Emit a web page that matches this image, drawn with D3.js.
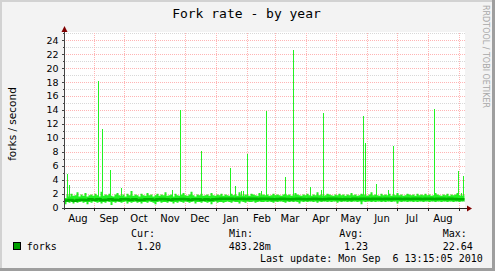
<!DOCTYPE html>
<html>
<head>
<meta charset="utf-8">
<script src="https://cdn.jsdelivr.net/npm/d3@7"></script>
<style>
  body { margin: 0; background: #fff; }
  svg text { font-family: "DejaVu Sans", sans-serif; }
  .mono { font-family: "DejaVu Sans Mono", monospace; }
</style>
</head>
<body>
<div id="chart"></div>
<script>
// ---- data ----
const title = "Fork rate - by year";
const yLabel = "forks / second";
const watermark = "RRDTOOL / TOBI OETIKER";
const lastUpdate = new Date(2010, 8, 6, 13, 15, 5);
const spanDays = 400;
const yTicks = [0, 2, 4, 6, 8, 10, 12, 14, 16, 18, 20, 22, 24];

// min / max band, one value every 2 days from the left edge
const bandStep = 2;
const maxVals = [
  1.4,1.9,1.6,2.0,1.7,1.8,2.2,1.6,1.9,1.7,2.1,1.6,1.8,1.9,1.7,2.0,1.8,1.6,2.3,1.7,
  1.9,1.8,2.0,1.7,1.6,1.9,2.1,1.8,1.7,1.9,1.6,2.0,1.8,2.4,1.7,1.9,1.8,1.6,2.0,1.8,
  1.7,2.1,1.8,1.9,1.6,1.8,2.0,1.7,1.9,1.8,2.2,1.7,1.8,1.9,1.6,2.0,1.8,1.7,1.9,2.1,
  1.8,1.7,1.9,2.3,1.8,1.6,1.9,1.8,2.0,1.7,1.8,1.9,1.7,2.1,1.8,1.7,1.9,1.8,2.0,1.7,
  1.9,1.8,1.7,2.0,1.8,1.9,1.7,2.2,1.8,1.7,1.9,1.8,1.7,2.0,1.9,1.8,1.7,2.1,1.8,1.9,
  1.8,1.9,1.7,1.8,2.0,1.8,1.9,1.8,1.7,1.9,2.0,1.8,1.9,1.7,1.8,2.1,1.9,1.8,1.7,1.9,
  1.8,2.0,1.8,1.7,1.9,1.8,2.2,1.8,1.9,1.7,1.8,2.0,1.9,1.8,1.7,1.9,1.8,2.0,1.8,1.9,
  1.7,1.9,1.8,2.1,1.8,1.9,1.7,1.8,2.0,1.9,1.8,1.7,1.9,2.2,1.8,1.9,1.8,1.7,2.0,1.8,
  1.9,1.8,2.0,1.7,1.9,1.8,2.1,1.8,1.9,1.7,1.8,2.0,1.9,1.8,1.9,1.7,2.0,1.8,1.9,1.8,
  2.0,1.8,1.9,1.7,1.8,2.1,1.9,1.8,1.7,1.9,1.8,2.0,1.7,1.9,1.8,1.9,2.1,1.8,1.7,1.8
];
const minVals = [
  0.5,0.8,0.7,0.9,0.6,0.8,0.7,0.8,0.9,0.7,0.8,0.5,0.8,0.7,0.9,0.8,0.7,0.8,0.6,0.8,
  0.7,0.9,0.8,0.4,0.8,0.7,0.9,0.8,0.7,0.8,0.9,0.6,0.8,0.7,0.8,0.9,0.7,0.8,0.6,0.8,
  0.8,0.7,0.9,0.8,0.7,0.5,0.8,0.9,0.7,0.8,0.8,0.7,0.9,0.8,0.6,0.8,0.7,0.9,0.8,0.7,
  0.9,0.8,0.7,0.8,0.9,0.6,0.8,0.8,0.7,0.9,0.8,0.7,0.8,0.5,0.8,0.9,0.7,0.8,0.8,0.7,
  0.8,0.9,0.8,0.7,0.9,0.8,0.8,0.6,0.9,0.8,0.7,0.9,0.8,0.8,0.9,0.7,0.8,0.9,0.8,0.8,
  0.9,0.8,0.9,0.8,0.7,0.9,0.8,0.9,0.9,0.8,0.7,0.9,0.8,0.9,0.8,0.9,0.8,0.6,0.9,0.8,
  0.9,0.8,0.9,0.9,0.8,0.9,0.7,0.9,0.8,0.9,0.9,0.8,0.9,0.8,0.9,0.9,0.7,0.9,0.8,0.9,
  0.9,0.8,0.9,0.8,0.9,0.9,0.8,0.9,0.5,0.9,0.8,0.9,0.9,0.8,0.9,0.8,0.9,0.9,0.8,0.9,
  0.8,0.9,0.9,0.8,0.9,0.9,0.6,0.9,0.8,0.9,0.9,0.8,0.9,0.9,0.8,0.9,0.8,0.9,0.9,0.8,
  0.9,0.9,0.8,0.9,0.9,0.8,0.9,0.9,0.8,0.9,0.9,0.8,0.9,0.9,0.8,0.9,0.9,0.8,0.9,0.9
];
// average line, one value every 4 days
const avgStep = 4;
const avgVals = [
  1.05,1.1,1.0,1.1,1.15,1.1,1.2,1.15,1.2,1.1,1.15,1.2,1.15,1.1,1.2,1.2,1.15,1.2,1.1,1.15,
  1.2,1.2,1.15,1.2,1.25,1.2,1.15,1.2,1.2,1.25,1.2,1.15,1.2,1.2,1.15,1.2,1.15,1.2,1.25,1.3,
  1.3,1.3,1.25,1.3,1.3,1.25,1.3,1.3,1.25,1.3,1.3,1.25,1.2,1.25,1.3,1.25,1.2,1.25,1.3,1.25,
  1.2,1.25,1.3,1.25,1.2,1.25,1.3,1.3,1.25,1.2,1.25,1.2,1.3,1.25,1.3,1.3,1.25,1.3,1.3,1.25,
  1.3,1.25,1.3,1.3,1.25,1.3,1.25,1.3,1.3,1.25,1.3,1.3,1.25,1.3,1.3,1.25,1.3,1.25,1.2,1.2
];
// single-day peaks: [day from left edge, forks/s]
const spikes = [
  [3,4.9],[5,3.3],[34,18.1],[38,11.3],[46,5.4],[57,2.8],[108,2.6],[116,14.0],
  [137,8.1],[166,5.75],[171,3.1],[177,2.4],[179,2.4],[183,7.7],[197,2.4],[202,13.8],
  [221,4.4],[229,22.64],[246,2.9],[257,2.5],[259,13.6],[299,13.1],[301,9.3],[312,3.4],
  [324,2.6],[329,8.9],[370,14.2],[394,5.2],[397,2.1],[399,4.5]
];
const legendName = "forks";
const statLabels = ["Cur:", "Min:", "Avg:", "Max:"];
const statValues = ["1.20", "483.28m", "1.23", "22.64"];

// ---- drawing ----
const W = 495, H = 271;
const svg = d3.select("#chart").append("svg").attr("width", W).attr("height", H);

const start = new Date(lastUpdate.getTime() - spanDays * 864e5);
const dayAt = d => new Date(start.getTime() + d * 864e5);

const x = d3.scaleTime().domain([start, lastUpdate]).range([64.5, 464.5]);
const y = d3.scaleLinear().domain([0, 25]).range([207.7, 33.3]);

// frame
svg.append("rect").attr("width", W).attr("height", H).attr("fill", "#f3f3f3");
svg.append("rect").attr("x", 0).attr("y", 0).attr("width", W).attr("height", 2).attr("fill", "#d2d2d2");
svg.append("rect").attr("x", 0).attr("y", 0).attr("width", 2).attr("height", H).attr("fill", "#d2d2d2");
svg.append("rect").attr("x", W - 3).attr("y", 0).attr("width", 3).attr("height", H).attr("fill", "#9e9e9e");
svg.append("rect").attr("x", 0).attr("y", H - 3).attr("width", W).attr("height", 3).attr("fill", "#9e9e9e");

// canvas
svg.append("rect").attr("x", 64).attr("y", 32).attr("width", 401).attr("height", 176).attr("fill", "#fff");

// horizontal grid
const grid = svg.append("g").attr("shape-rendering", "crispEdges");
d3.range(1, 26).forEach(v => {
  const major = yTicks.includes(v);
  grid.append("line")
    .attr("x1", 64).attr("x2", 465)
    .attr("y1", Math.round(y(v)) + 0.5).attr("y2", Math.round(y(v)) + 0.5)
    .attr("stroke", major ? "#ffb4b4" : "#d8d8d8")
    .attr("stroke-dasharray", "1,1");
});
// vertical grid at month starts
const months = d3.timeMonth.range(d3.timeMonth.ceil(start), lastUpdate);
months.forEach(m => {
  const px = Math.round(x(m)) + 0.5;
  grid.append("line")
    .attr("x1", px).attr("x2", px).attr("y1", 33).attr("y2", 208)
    .attr("stroke", "#ffb4b4").attr("stroke-dasharray", "1,1");
});

// band
const band = minVals.map((v, i) => ({ t: dayAt(i * bandStep), lo: v, hi: maxVals[i] }));
band.push({ t: lastUpdate, lo: minVals[minVals.length - 1], hi: maxVals[maxVals.length - 1] });
svg.append("path").datum(band)
  .attr("fill", "#22f222")
  .attr("d", d3.area().curve(d3.curveStepAfter)
    .x(d => x(d.t)).y0(d => y(d.lo)).y1(d => y(d.hi)));

// spikes
svg.append("g").attr("shape-rendering", "crispEdges")
  .selectAll("rect").data(spikes).join("rect")
  .attr("x", d => Math.floor(x(dayAt(d[0]))))
  .attr("width", 1)
  .attr("y", d => y(d[1]))
  .attr("height", d => y(1) - y(d[1]))
  .attr("fill", "#22f222");

// average line
const avg = avgVals.map((v, i) => ({ t: dayAt(i * avgStep), v }));
avg.push({ t: lastUpdate, v: avgVals[avgVals.length - 1] });
svg.append("path").datum(avg)
  .attr("fill", "none").attr("stroke", "#00b000").attr("stroke-width", 2.5)
  .attr("d", d3.line().curve(d3.curveStepAfter).x(d => x(d.t)).y(d => y(d.v)));

// axes
const ax = svg.append("g").attr("shape-rendering", "crispEdges");
ax.append("line").attr("x1", 64.5).attr("x2", 64.5).attr("y1", 30).attr("y2", 210).attr("stroke", "#444");
ax.append("line").attr("x1", 62).attr("x2", 468).attr("y1", 208.5).attr("y2", 208.5).attr("stroke", "#222");
d3.range(0, 26).forEach(v => {
  const py = Math.round(y(v)) + 0.5;
  ax.append("line").attr("x1", yTicks.includes(v) ? 62 : 63).attr("x2", 64.5)
    .attr("y1", py).attr("y2", py).attr("stroke", "#444");
});
months.forEach(m => {
  const px = Math.round(x(m)) + 0.5;
  ax.append("line").attr("x1", px).attr("x2", px).attr("y1", 208).attr("y2", 211).attr("stroke", "#222");
});
svg.append("path").attr("d", "M64.5,26L61.5,32L67.5,32Z").attr("fill", "#800000");
svg.append("path").attr("d", "M472,208.5L467,205.5L467,211.5Z").attr("fill", "#800000");

// tick labels
svg.append("g").selectAll("text").data(yTicks).join("text")
  .attr("x", 58.5).attr("y", d => y(d) + 3.4)
  .attr("text-anchor", "end").attr("font-size", 9.5).attr("fill", "#000")
  .text(d => d);
const fmtMonth = d3.timeFormat("%b");
const monthLabels = d3.timeMonth.range(d3.timeMonth.floor(start), lastUpdate)
  .filter(m => { const c = x(d3.timeDay.offset(m, 15)); return c > 64 && c < 464; });
svg.append("g").selectAll("text").data(monthLabels).join("text")
  .attr("x", d => x(d3.timeDay.offset(d, 15))).attr("y", 221.5)
  .attr("text-anchor", "middle").attr("font-size", 10).attr("fill", "#000")
  .text(d => fmtMonth(d));

// titles
svg.append("text").attr("class", "mono").attr("x", 246.5).attr("y", 18.3)
  .attr("text-anchor", "middle").attr("font-size", 13).text(title);
svg.append("text").attr("transform", "translate(15.5,124) rotate(-90)")
  .attr("text-anchor", "middle").attr("font-size", 10.5).text(yLabel);
svg.append("text").attr("transform", "translate(483,5) rotate(90)")
  .attr("font-size", 8).attr("fill", "#a8a8a8")
  .attr("textLength", 103).attr("lengthAdjust", "spacingAndGlyphs")
  .text(watermark);

// legend
const lg = svg.append("g").attr("class", "mono").attr("font-size", 10);
svg.append("rect").attr("x", 13.5).attr("y", 242.5).attr("width", 7).attr("height", 7)
  .attr("fill", "#00a000").attr("stroke", "#000").attr("stroke-width", 1);
lg.append("text").attr("class", "mono").attr("x", 26.7).attr("y", 249.5).text(legendName);
const statX = [[131, 137], [229, 228.7], [339.3, 344], [442.7, 442.7]];
statLabels.forEach((s, i) => {
  lg.append("text").attr("class", "mono").attr("x", statX[i][0]).attr("y", 237).text(s);
  lg.append("text").attr("class", "mono").attr("x", statX[i][1]).attr("y", 249.5).text(statValues[i]);
});
lg.append("text").attr("class", "mono").attr("x", 260).attr("y", 262)
  .attr("xml:space", "preserve").style("white-space", "pre")
  .text("Last update: " + d3.timeFormat("%a %b %e %H:%M:%S %Y")(lastUpdate));
</script>
</body>
</html>
